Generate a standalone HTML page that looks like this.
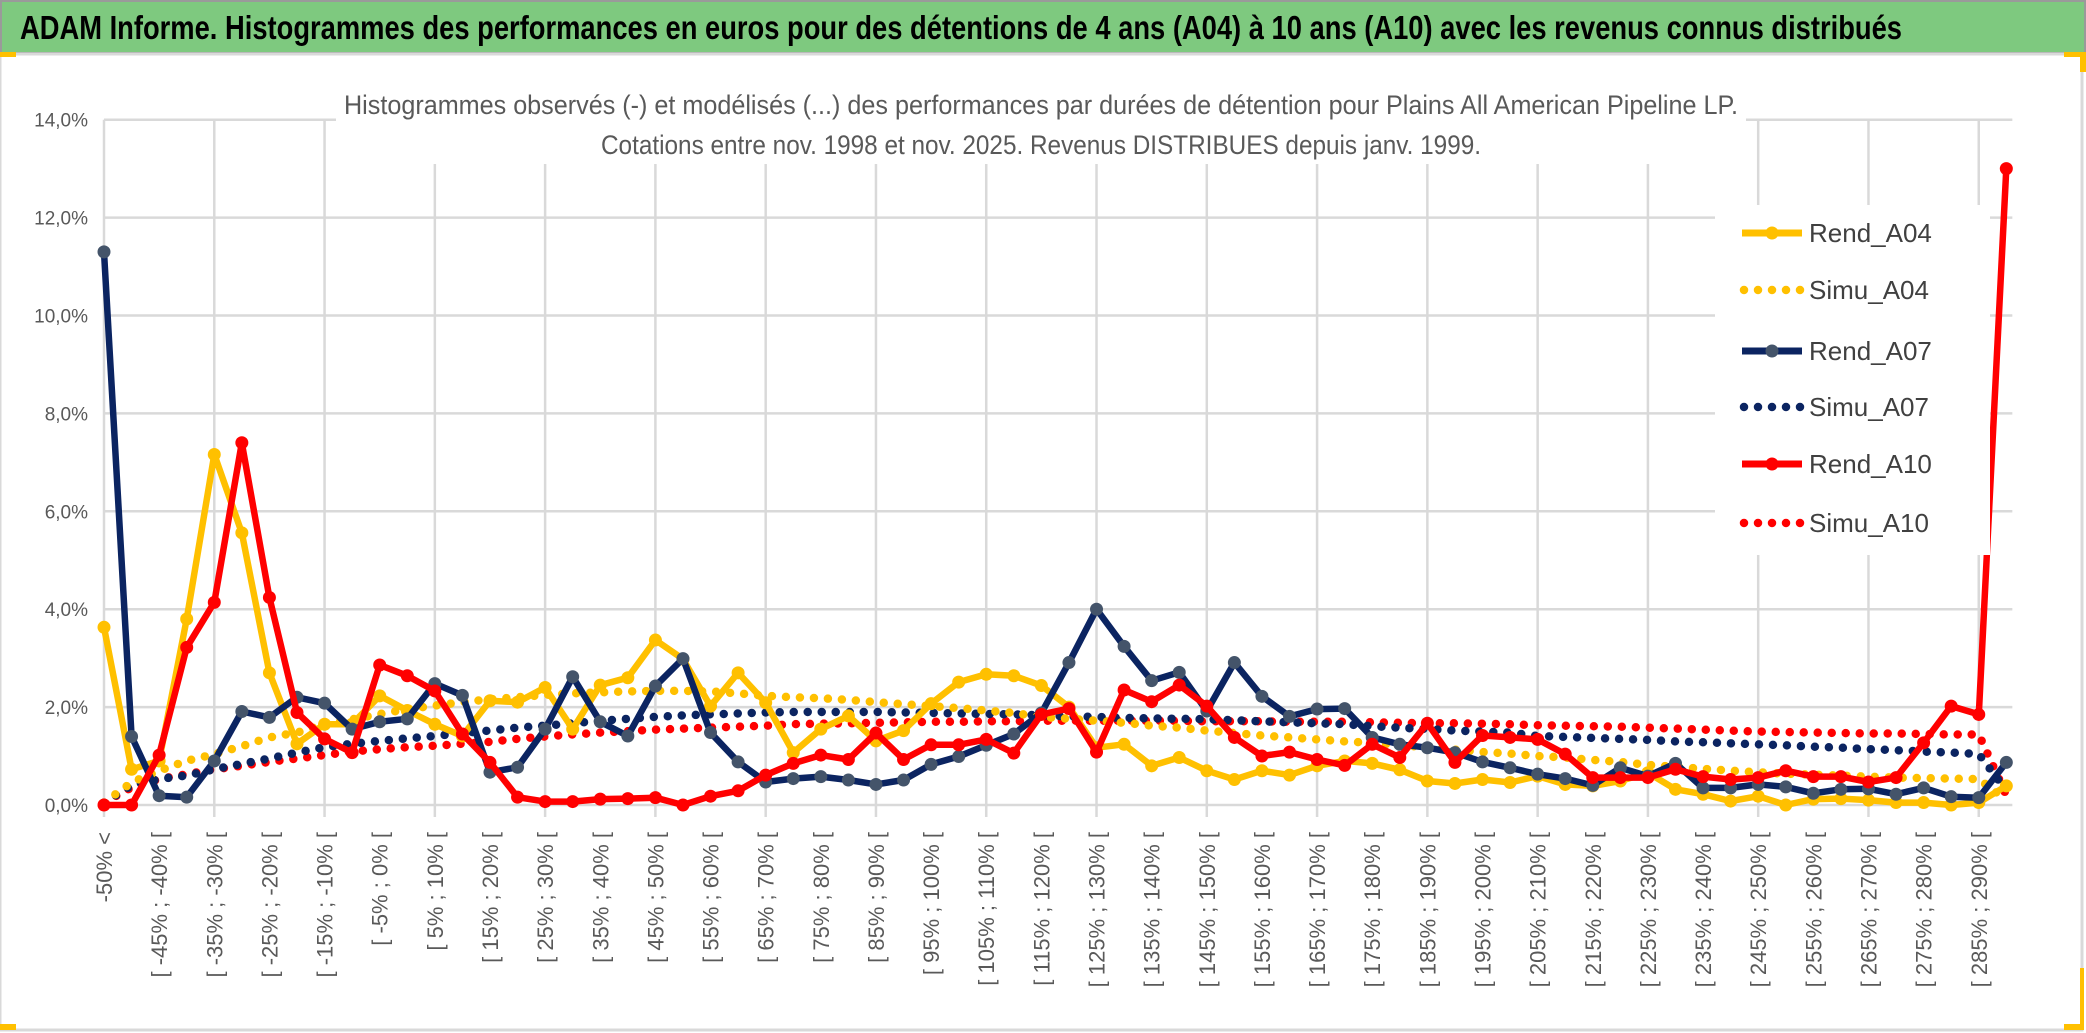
<!DOCTYPE html>
<html><head><meta charset="utf-8">
<style>
html,body{margin:0;padding:0;background:#fff;}
svg{display:block;font-family:"Liberation Sans",Arial,sans-serif;}
</style></head>
<body>
<svg id="chart" width="2086" height="1033" viewBox="0 0 2086 1033" xmlns="http://www.w3.org/2000/svg">
  <rect x="0" y="0" width="2086" height="1033" fill="#ffffff"/>
  <rect x="1" y="1" width="2084" height="52" fill="#7EC97F" stroke="#9a9a9a" stroke-width="2"/>
  <text x="20" y="39" font-size="33" font-weight="bold" fill="#000" textLength="1882" lengthAdjust="spacingAndGlyphs">ADAM Informe. Histogrammes des performances en euros pour des détentions de 4 ans (A04) à 10 ans (A10) avec les revenus connus distribués</text>
  <rect x="0" y="54" width="2082" height="976" fill="none" stroke="#d9d9d9" stroke-width="3"/>
  <rect x="0" y="52" width="16" height="5" fill="#FFC000"/>
  <rect x="0" y="1024" width="16" height="6" fill="#FFC000"/>
  <rect x="2064" y="52" width="22" height="5" fill="#FFC000"/>
  <rect x="2080" y="52" width="6" height="20" fill="#FFC000"/>
  <rect x="2064" y="1024" width="20" height="6" fill="#FFC000"/>
  <rect x="2080" y="968" width="4" height="60" fill="#FFC000"/>
  <g id="grid"></g>
  <g id="yticks"></g>
  <g id="xticks"></g>
  <rect x="336" y="80" width="1410" height="84" fill="#fff"/>
  <text x="1041" y="114" font-size="27" fill="#595959" text-anchor="middle" textLength="1394" lengthAdjust="spacingAndGlyphs">Histogrammes observés (-) et modélisés (...) des performances par durées de détention pour Plains All American Pipeline LP.</text>
  <text x="1041" y="154" font-size="27" fill="#595959" text-anchor="middle" textLength="880" lengthAdjust="spacingAndGlyphs">Cotations entre nov. 1998 et nov. 2025.  Revenus DISTRIBUES depuis janv. 1999.</text>
  <g id="series"></g>
  <g id="legend"></g>
</svg>
<script>
const categories = [];
categories.push('-50% <');
for (let a = -50; a <= 290; a += 5) categories.push('[ ' + a + '% ; ' + (a + 5) + '% [');

const rendA04 = [3.63,0.73,0.9,3.8,7.16,5.56,2.7,1.25,1.65,1.65,2.23,1.93,1.65,1.41,2.13,2.1,2.4,1.55,
 2.45,2.6,3.37,2.98,2.02,2.7,2.09,1.07,1.55,1.82,1.31,1.52,2.07,2.51,2.67,2.64,2.44,
 2.0,1.17,1.24,0.80,0.97,0.70,0.52,0.70,0.61,0.80,0.90,0.85,0.72,0.49,0.44,0.52,0.46,0.59,0.42,
 0.39,0.49,0.66,0.32,0.22,0.08,0.18,0.0,0.12,0.13,0.10,0.05,0.05,0.0,0.05,0.39];
const rendA07 = [11.3,1.40,0.19,0.16,0.90,1.91,1.79,2.20,2.08,1.55,1.70,1.76,2.48,2.24,0.67,0.77,1.55,2.62,
 1.70,1.41,2.43,2.99,1.48,0.88,0.47,0.54,0.58,0.51,0.42,0.51,0.83,0.99,1.22,1.45,
 1.88,2.91,4.0,3.24,2.54,2.71,1.92,2.91,2.22,1.81,1.96,1.97,1.38,1.24,1.17,1.07,0.88,0.76,
 0.63,0.54,0.40,0.76,0.59,0.85,0.35,0.35,0.42,0.37,0.24,0.32,0.33,0.22,0.35,0.17,0.15,0.87];
const rendA10 = [0,0,1.02,3.22,4.14,7.40,4.24,1.89,1.35,1.07,2.86,2.64,2.33,1.45,0.87,0.16,0.07,0.07,
 0.12,0.13,0.15,0.0,0.18,0.29,0.61,0.85,1.02,0.93,1.47,0.93,1.23,1.23,1.34,1.06,
 1.85,1.97,1.08,2.35,2.11,2.45,2.02,1.38,1.00,1.08,0.93,0.81,1.24,0.97,1.67,0.87,1.42,1.38,
 1.34,1.04,0.56,0.56,0.56,0.73,0.58,0.52,0.56,0.70,0.58,0.58,0.47,0.56,1.27,2.02,1.85,13.0];
const simuA04 = [0.05,0.46,0.7,0.9,1.04,1.2,1.38,1.48,1.65,1.75,1.86,1.96,2.03,2.1,2.16,2.2,2.25,2.28,2.3,2.32,
 2.33,2.33,2.32,2.28,2.23,2.2,2.18,2.15,2.1,2.06,2.02,1.98,1.93,1.88,1.8,1.76,1.72,1.68,1.62,1.58,
 1.52,1.47,1.42,1.38,1.34,1.3,1.27,1.22,1.18,1.13,1.08,1.05,1.0,0.97,0.92,0.88,0.82,0.78,0.74,0.7,
 0.67,0.64,0.62,0.6,0.58,0.56,0.55,0.54,0.53,0.1];
const simuA07 = [0.05,0.4,0.53,0.6,0.73,0.84,0.95,1.07,1.18,1.25,1.31,1.36,1.41,1.47,1.52,1.58,1.62,1.67,1.72,1.76,
 1.8,1.83,1.85,1.87,1.89,1.9,1.9,1.9,1.9,1.89,1.88,1.87,1.86,1.85,1.83,1.81,1.8,1.78,1.77,1.76,
 1.75,1.73,1.71,1.69,1.67,1.65,1.61,1.58,1.55,1.52,1.5,1.48,1.41,1.39,1.37,1.35,1.33,1.3,1.28,1.26,
 1.24,1.22,1.19,1.17,1.14,1.12,1.09,1.07,1.04,0.3];
const simuA10 = [0.05,0.36,0.53,0.63,0.73,0.8,0.88,0.95,1.02,1.09,1.14,1.18,1.21,1.25,1.29,1.35,1.4,1.44,1.48,1.51,
 1.54,1.56,1.58,1.6,1.62,1.65,1.66,1.67,1.68,1.69,1.7,1.7,1.71,1.71,1.72,1.72,1.72,1.72,
 1.72,1.72,1.71,1.71,1.71,1.7,1.7,1.7,1.69,1.68,1.67,1.67,1.66,1.65,1.63,1.62,1.61,1.6,1.58,1.56,
 1.54,1.52,1.5,1.49,1.48,1.47,1.46,1.46,1.45,1.44,1.44,0.2];
const yTickValues = [0,2,4,6,8,10,12,14];
const yTickLabels = ['0,0%','2,0%','4,0%','6,0%','8,0%','10,0%','12,0%','14,0%'];
const seriesNames = ['Rend_A04','Simu_A04','Rend_A07','Simu_A07','Rend_A10','Simu_A10'];

const NS = 'http://www.w3.org/2000/svg';
const X0 = 104, DX = 27.57, Y0 = 805, PY = 48.95;
function xPos(i){ return X0 + i * DX; }
function yPos(v){ return Y0 - v * PY; }
function mk(tag, attrs, parent){
  const e = document.createElementNS(NS, tag);
  for (const k in attrs) e.setAttribute(k, attrs[k]);
  parent.appendChild(e);
  return e;
}
const grid = document.getElementById('grid');
const xEnd = xPos(categories.length - 1) + 6;
yTickValues.forEach(function(v){
  const l = mk('line', {x1: X0, x2: xEnd, y1: yPos(v), y2: yPos(v), stroke: '#d9d9d9', 'stroke-width': 2.5}, grid);
  
  
});
for (let i = 0; i < categories.length; i += 4) {
  const l = mk('line', {x1: xPos(i), x2: xPos(i), y1: yPos(14), y2: Y0 + 12, stroke: '#d9d9d9', 'stroke-width': 2.5}, grid);
  
  
}
const yt = document.getElementById('yticks');
yTickValues.forEach(function(v, k){
  const t = mk('text', {x: 88, y: yPos(v) + 7, 'font-size': 19, fill: '#595959', 'text-anchor': 'end'}, yt);
  t.textContent = yTickLabels[k];
  
  
});
const xt = document.getElementById('xticks');
for (let i = 0; i < categories.length; i += 2) {
  const x = xPos(i) + 8, y = 832;
  const t = mk('text', {x: x, y: y, 'font-size': 22, fill: '#595959', 'text-anchor': 'end', transform: 'rotate(-90 ' + x + ' ' + y + ')'}, xt);
  t.textContent = categories[i];
  
  
}
const sg = document.getElementById('series');
function drawDotted(data, color, name){
  const pts = data.map(function(v, i){ return xPos(i).toFixed(1) + ',' + yPos(v).toFixed(1); }).join(' ');
  const p = mk('polyline', {points: pts, fill: 'none', stroke: color, 'stroke-width': 8.5, 'stroke-linecap': 'round', 'stroke-dasharray': '0 14'}, sg);
  
  
}
function drawSolid(data, color, mcolor, name){
  const g = mk('g', {}, sg);
  
  
  const pts = data.map(function(v, i){ return xPos(i).toFixed(1) + ',' + yPos(v).toFixed(1); }).join(' ');
  const p = mk('polyline', {points: pts, fill: 'none', stroke: color, 'stroke-width': 6.5, 'stroke-linejoin': 'round'}, g);
  
  
  data.forEach(function(v, i){
    const c = mk('circle', {cx: xPos(i), cy: yPos(v), r: 6.5, fill: mcolor}, g);
    
    
  });
}
drawDotted(simuA10, '#FF0000', 'simu-a10-line');
drawDotted(simuA07, '#0B2461', 'simu-a07-line');
drawDotted(simuA04, '#FFC000', 'simu-a04-line');
drawSolid(rendA04, '#FFC000', '#FFC000', 'rend-a04-series');
drawSolid(rendA07, '#0B2461', '#44546A', 'rend-a07-series');
drawSolid(rendA10, '#FF0000', '#FF0000', 'rend-a10-series');

const lg = document.getElementById('legend');
const box = mk('rect', {x: 1715, y: 205, width: 275, height: 350, fill: '#fff'}, lg);


const legColors = ['#FFC000','#FFC000','#0B2461','#0B2461','#FF0000','#FF0000'];
const legY = [233, 290, 351, 407, 464, 523];
seriesNames.forEach(function(n, k){
  const g = mk('g', {}, lg);
  
  
  const y = legY[k];
  if (k % 2 === 0) {
    mk('line', {x1: 1742, x2: 1802, y1: y, y2: y, stroke: legColors[k], 'stroke-width': 7}, g);
    mk('circle', {cx: 1772, cy: y, r: 6.5, fill: k === 2 ? '#44546A' : legColors[k]}, g);
  } else {
    mk('line', {x1: 1744, x2: 1802, y1: y, y2: y, stroke: legColors[k], 'stroke-width': 8.5, 'stroke-linecap': 'round', 'stroke-dasharray': '0 14'}, g);
  }
  const t = mk('text', {x: 1809, y: y + 9, 'font-size': 26, fill: '#404040'}, g);
  t.textContent = n;
  
  
});
</script>
</body></html>
